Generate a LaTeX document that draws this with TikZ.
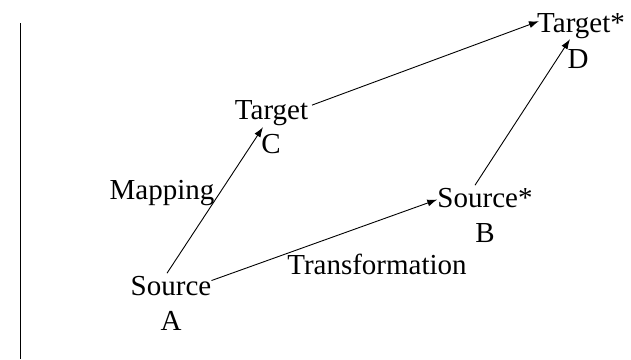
\documentclass[tikz,border=0pt]{standalone}
\usepackage{fontspec}
\setmainfont{Liberation Serif}
\usetikzlibrary{arrows.meta}
\tikzset{
  lbl/.style={inner sep=0pt, anchor=base, font=\fontsize{29}{35}\selectfont},
  arr/.style={line width=0.9pt, -{Latex[length=10pt,width=7pt]}},
}
\begin{document}
\begin{tikzpicture}[x=1pt,y=-1pt]
\useasboundingbox (0,0) rectangle (631,359);
\draw[line width=1.2pt] (20.5,23) -- (20.5,359);
% labels
\node[lbl] (srcA) at (171,295) {Source};
\node[lbl] (labA) at (171,330) {A};
\node[lbl] (tgtC) at (271.5,119) {Target};
\node[lbl] (labC) at (271,153) {C};
\node[lbl] (srcB) at (485,207) {Source*};
\node[lbl] (labB) at (485,242) {B};
\node[lbl] (tgtD) at (581,32) {Target*};
\node[lbl] (labD) at (578,68) {D};
\node[lbl] (map) at (162,199) {Mapping};
\node[lbl] (trans) at (377,274) {Transformation};
% connectors
\draw[arr] ([shift={(-4,-2.4)}]srcA.north) -- ([shift={(-8.5,1.7)}]tgtC.south);
\draw[arr] ([shift={(0,-5)}]srcA.east) -- ([shift={(0,2)}]srcB.west);
\draw[arr] ([shift={(3.7,-7.5)}]tgtC.east) -- ([shift={(2,-4.5)}]tgtD.west);
\draw[arr] ([shift={(-10,-2.4)}]srcB.north) -- ([shift={(-11,0.7)}]tgtD.south);
\end{tikzpicture}
\end{document}
